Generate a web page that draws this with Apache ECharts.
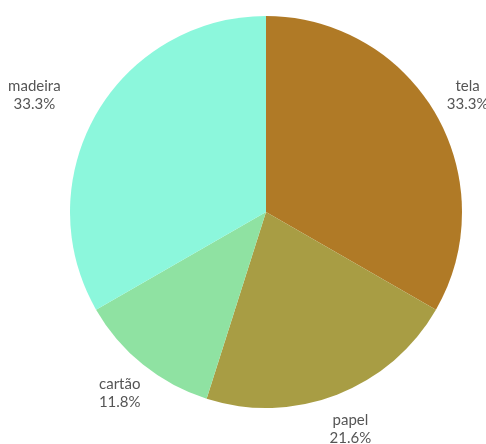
<!DOCTYPE html>
<html>
<head>
<meta charset="utf-8">
<script src="https://cdn.jsdelivr.net/npm/echarts@6/dist/echarts.min.js"></script>
<style>
  html, body { margin: 0; padding: 0; background: #fff; }
  #chart { width: 486px; height: 444px; }
</style>
</head>
<body>
<div id="chart"></div>
<script>
// categorias e valores (%)
var categorias = ['tela', 'papel', 'cartão', 'madeira'];
var valores = [33.3, 21.6, 11.8, 33.3];
var cores = ['#b07a26', '#a89d44', '#8fe2a2', '#8cf7dc'];

var data = [];
for (var i = 0; i < categorias.length; i++) {
    data.push({ name: categorias[i], value: valores[i] });
}

var myChart = echarts.init(document.getElementById('chart'));

var option = {
    animation: false,
    color: cores,
    series: [
    {
        // a pizza visivel
        type: 'pie',
        center: [266, 212],
        radius: [0, 196],
        startAngle: 90,
        clockwise: true,
        label: { show: false },
        labelLine: { show: false },
        data: data
    },
    {
        // serie invisivel so para os rotulos (raio do meio ~230)
        type: 'pie',
        silent: true,
        center: [266, 212],
        radius: [0, 460],
        startAngle: 90,
        clockwise: true,
        itemStyle: { color: 'rgba(0,0,0,0)' },
        label: {
            show: true,
            position: 'inside',
            formatter: function (p) { return p.name + '\n' + p.value.toFixed(1) + '%'; },
            fontFamily: 'Lato',
            fontSize: 15,
            lineHeight: 18,
            color: '#555',
            align: 'center'
        },
        labelLine: { show: false },
        data: data.map(function (d) {
            if (d.name === 'madeira') {
                return { name: d.name, value: d.value, label: { offset: [-30, 0] } };
            }
            return d;
        })
    }
    ]
};

myChart.setOption(option);
</script>
</body>
</html>
